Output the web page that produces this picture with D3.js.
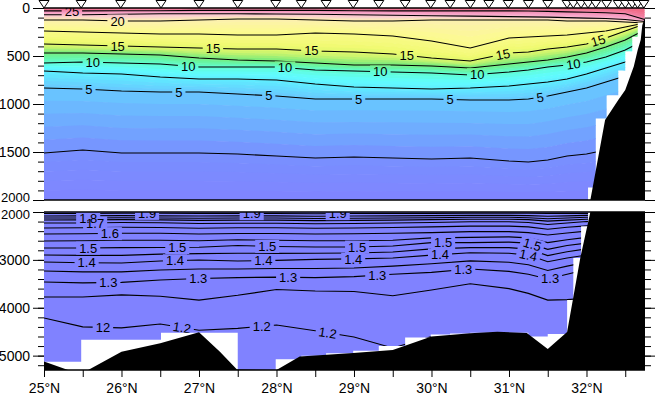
<!DOCTYPE html>
<html>
<head>
<meta charset="utf-8">
<script src="https://cdn.jsdelivr.net/npm/d3@7"></script>
<style>
  body { margin: 0; background: #fff; }
  text { font-family: "Liberation Sans", Arial, sans-serif; }
</style>
</head>
<body>
<svg id="chart" width="655" height="395"></svg>
<script>
// station positions (deg N) and deepest sample at each (m)
const stationLat = [25.0, 25.48, 25.99, 26.51, 27.0, 27.5, 27.99, 28.32, 28.64, 28.99, 29.32, 29.66, 29.99, 30.24, 30.5,
  30.74, 30.99, 31.25, 31.5, 31.75, 31.83, 31.93, 32.02, 32.12, 32.26, 32.41, 32.5, 32.59, 32.66, 32.74];
const stationBottom = [5130, 5200, 4670, 4700, 4520, 5300, 5300, 5075, 5000, 4950, 4900, 4800, 4620, 4560, 4540,
  4520, 4520, 4600, 4650, 4550, 3840, 2960, 2300, 1870, 1150, 910, 650, 450, 300, 150];

// bottom topography
const bathyLat = [25.0, 25.31, 25.57, 26.0, 26.5, 27.0, 27.27, 27.49, 28.0, 28.3, 28.99, 29.5, 30.0, 30.5, 30.85,
  31.23, 31.5, 31.75, 31.92, 32.05, 32.24, 32.41, 32.5, 32.61, 32.66, 32.7, 32.72, 32.74, 32.755];
const bathyDepth = [5125, 5320, 5320, 4917, 4741, 4512, 4917, 5290, 5300, 5020, 4945, 4880, 4600, 4530, 4500,
  4526, 4860, 4505, 2960, 2000, 1167, 958, 854, 610, 440, 330, 180, 130, 100];

// latitudes at which isotherm depths are read
const gridLat = [25, 25.5, 26, 26.5, 27, 27.5, 28, 28.5, 29, 29.5, 30, 30.5, 31, 31.25, 31.5, 31.75, 32, 32.25, 32.5, 32.75];

// upper panel isotherms (deg C) and their depths (m)
const upperLevels = [25, 22.5, 20, 17.5, 15, 12.5, 10, 7.5, 5, 2.5];
const upperDepths = [
  [30, 30, 28, 28, 25, 25, 25, 25, 28, 30, 30, 30, 30, 32, 35, 40, 45, 50, 60, 120],
  [70, 70, 65, 60, 60, 60, 62, 65, 70, 75, 80, 85, 90, 92, 95, 100, 105, 110, 120, 140],
  [125, 125, 135, 135, 125, 115, 115, 125, 135, 135, 125, 125, 125, 125, 125, 135, 135, 135, 146, 156],
  [240, 250, 260, 271, 271, 281, 281, 260, 271, 292, 344, 417, 313, 302, 292, 281, 260, 240, 198, 156],
  [375, 385, 396, 406, 417, 427, 427, 448, 458, 479, 521, 552, 469, 458, 427, 406, 375, 313, 240, 167],
  [469, 469, 479, 490, 521, 542, 552, 573, 594, 594, 604, 625, 583, 563, 542, 510, 469, 406, 333, 229],
  [573, 563, 573, 583, 615, 615, 615, 646, 656, 667, 677, 698, 667, 646, 615, 594, 563, 510, 438, 333],
  [656, 677, 688, 719, 740, 740, 750, 792, 823, 833, 844, 833, 813, 792, 771, 740, 688, 625, 563, 438],
  [833, 844, 865, 875, 875, 896, 917, 948, 948, 948, 948, 958, 958, 948, 917, 875, 833, 771, 708, 646],
  [1510, 1479, 1510, 1510, 1510, 1521, 1542, 1563, 1552, 1563, 1573, 1563, 1594, 1604, 1583, 1542, 1521, 1479, 1427, 1375]
];

// lower panel isotherms
const lowerLevels = [1.9, 1.85, 1.8, 1.75, 1.7, 1.65, 1.6, 1.55, 1.5, 1.45, 1.4, 1.35, 1.3, 1.25, 1.2];
const lowerDepths = [
  [2030, 2030, 2025, 2025, 2030, 2030, 2030, 2035, 2030, 2030, 2030, 2025, 2025, 2025, 2030, 2030, 2030, 2030, 2030, 2030],
  [2084, 2080, 2075, 2080, 2085, 2080, 2080, 2090, 2085, 2080, 2075, 2070, 2070, 2075, 2090, 2080, 2070, 2060, 2060, 2060],
  [2125, 2125, 2120, 2125, 2130, 2125, 2125, 2135, 2130, 2125, 2120, 2110, 2110, 2120, 2140, 2125, 2110, 2100, 2100, 2100],
  [2167, 2165, 2160, 2165, 2175, 2170, 2170, 2180, 2175, 2170, 2160, 2150, 2150, 2160, 2190, 2170, 2150, 2140, 2140, 2140],
  [2230, 2230, 2220, 2225, 2240, 2235, 2235, 2245, 2240, 2230, 2220, 2205, 2205, 2220, 2260, 2230, 2200, 2190, 2190, 2190],
  [2334, 2330, 2320, 2325, 2340, 2330, 2330, 2340, 2335, 2325, 2310, 2295, 2295, 2310, 2360, 2320, 2290, 2280, 2280, 2280],
  [2459, 2455, 2445, 2445, 2460, 2450, 2450, 2460, 2455, 2445, 2430, 2410, 2410, 2430, 2480, 2440, 2400, 2390, 2390, 2390],
  [2605, 2600, 2590, 2590, 2600, 2580, 2590, 2600, 2600, 2590, 2540, 2530, 2520, 2540, 2640, 2580, 2530, 2520, 2520, 2520],
  [2752, 2752, 2745, 2740, 2735, 2700, 2720, 2731, 2731, 2710, 2640, 2640, 2630, 2650, 2780, 2700, 2650, 2640, 2640, 2640],
  [2898, 2905, 2905, 2880, 2870, 2860, 2865, 2860, 2855, 2835, 2770, 2745, 2745, 2775, 2910, 2830, 2770, 2760, 2760, 2760],
  [3044, 3060, 3065, 3023, 3002, 3023, 3010, 2990, 2980, 2960, 2900, 2850, 2860, 2900, 3040, 2960, 2900, 2890, 2890, 2890],
  [3232, 3250, 3250, 3210, 3190, 3190, 3180, 3180, 3170, 3130, 3080, 3020, 3050, 3100, 3220, 3130, 3050, 3040, 3040, 3040],
  [3461, 3480, 3470, 3420, 3390, 3370, 3360, 3370, 3350, 3300, 3260, 3190, 3240, 3300, 3400, 3300, 3200, 3190, 3190, 3190],
  [3775, 3775, 3730, 3760, 3840, 3740, 3620, 3650, 3660, 3750, 3630, 3500, 3600, 3700, 3840, 3830, 3800, 3800, 3800, 3800],
  [4213, 4400, 4420, 4340, 4470, 4430, 4360, 4480, 4610, 4840, 4600, 4560, 4700, 4700, 4800, 4800, 4800, 4800, 4800, 4800]
];

// contour labels: [level, latitude, text]
const upperLabels = [
  [25, 25.36, '25'], [20, 25.95, '20'],
  [15, 25.95, '15'], [15, 27.18, '15'], [15, 28.45, '15'], [15, 29.68, '15'], [15, 30.92, '15'], [15, 32.15, '15'],
  [10, 25.63, '10'], [10, 26.86, '10'], [10, 28.11, '10'], [10, 29.34, '10'], [10, 30.59, '10'], [10, 31.83, '10'],
  [5, 25.58, '5'], [5, 26.74, '5'], [5, 27.9, '5'], [5, 29.06, '5'], [5, 30.24, '5'], [5, 31.4, '5']
];
const lowerLabels = [
  [1.9, 26.33, '1.9'], [1.9, 27.68, '1.9'], [1.9, 28.79, '1.9'], [1.8, 25.57, '1.8'], [1.7, 25.66, '1.7'], [1.6, 25.85, '1.6'],
  [1.5, 25.57, '1.5'], [1.5, 26.72, '1.5'], [1.5, 27.88, '1.5'], [1.5, 29.04, '1.5'], [1.5, 30.15, '1.5'], [1.5, 31.3, '1.5'],
  [1.4, 25.55, '1.4'], [1.4, 26.69, '1.4'], [1.4, 27.83, '1.4'], [1.4, 28.99, '1.4'], [1.4, 30.11, '1.4'], [1.4, 31.25, '1.4'],
  [1.3, 25.83, '1.3'], [1.3, 26.99, '1.3'], [1.3, 28.15, '1.3'], [1.3, 29.3, '1.3'], [1.3, 30.41, '1.3'], [1.3, 31.53, '1.3'],
  [1.2, 25.76, '12'], [1.2, 26.78, '1.2'], [1.2, 27.81, '1.2'], [1.2, 28.66, '1.2']
];

// axis ticks
const latTicks = d3.range(25, 32.51, 0.5);
const latLabels = [25, 26, 27, 28, 29, 30, 31, 32];
const upperMajor = [0, 500, 1000, 1500, 2000];
const upperMinor = d3.range(0, 2001, 100);
const lowerMajor = [2000, 3000, 4000, 5000];
const lowerMinor = d3.range(2000, 5301, 200);

// colour map (temperature -> colour)
const colorTemps = [1.0, 2.0, 2.5, 3.5, 5, 7, 8.5, 10, 11.5, 12.8, 14, 15.5, 18, 20, 21.5, 23.5, 25, 27];
const colorHex = ['#8080ff', '#8084ff', '#7890ff', '#70a8ff', '#68c8ff', '#60e8ff', '#60fcff', '#60fcd0', '#68f49c',
  '#84ec78', '#c8f46c', '#f0fa70', '#fcfa90', '#fcf0b0', '#fad0d0', '#f6a0c8', '#f288ac', '#f06c88'];

const color = d3.scaleLinear().domain(colorTemps).range(colorHex).clamp(true);

const X0 = 44, X1 = 645;
const latMax = 32.755;
const x = d3.scaleLinear().domain([25, latMax]).range([X0, X1]);
const yUp = d3.scaleLinear().domain([0, 2000]).range([8, 200]).clamp(true);
const yLo = d3.scaleLinear().domain([2000, 5300]).range([212, 370]).clamp(true);

const svg = d3.select('#chart');
const defs = svg.append('defs');

// region where there is data: step outline under the stations
function dataOutline(y, top) {
  const pts = [[x(stationLat[0]), y(top)]];
  for (let i = 0; i < stationLat.length - 1; i++) {
    const d = Math.min(stationBottom[i], stationBottom[i + 1]);
    pts.push([x(stationLat[i]), y(d)], [x(stationLat[i + 1]), y(d)]);
  }
  pts.push([x(latMax), y(stationBottom[stationBottom.length - 1])]);
  pts.push([x(latMax), y(top)]);
  return 'M' + pts.join('L') + 'Z';
}

function drawPanel(name, y, top, bottom, levels, depths, labels, bands) {
  const g = svg.append('g').attr('class', name);

  defs.append('clipPath').attr('id', name + '-data')
    .append('path').attr('d', dataOutline(y, top));
  defs.append('clipPath').attr('id', name + '-box')
    .append('rect').attr('x', X0).attr('y', y(top)).attr('width', X1 - X0).attr('height', y(bottom) - y(top));

  // colour fill
  const fill = g.append('g').attr('clip-path', `url(#${name}-data)`);
  bands(fill);

  // labels first so we can cut gaps in the lines
  const lab = g.append('g').attr('clip-path', `url(#${name}-data)`);
  const mask = defs.append('mask').attr('id', name + '-gaps');
  mask.append('rect').attr('x', 0).attr('y', 0).attr('width', 655).attr('height', 395).attr('fill', '#fff');

  labels.forEach(([lev, lat, txt]) => {
    const arr = depths[levels.indexOf(lev)];
    const at = d3.scaleLinear().domain(gridLat).range(arr);
    const px = x(lat), py = y(at(lat));
    const ax = x(lat + 0.06) - x(lat - 0.06), ay = y(at(lat + 0.06)) - y(at(lat - 0.06));
    let ang = Math.atan2(ay, ax) * 180 / Math.PI;
    if (Math.abs(ang) < 8) ang = 0;
    const t = lab.append('text')
      .attr('transform', `translate(${px},${py}) rotate(${ang})`)
      .attr('text-anchor', 'middle')
      .attr('dy', '0.36em')
      .attr('font-size', 13)
      .text(txt);
    const b = t.node().getBBox();
    mask.append('rect')
      .attr('transform', `translate(${px},${py}) rotate(${ang})`)
      .attr('x', b.x - 3).attr('y', b.y + 1).attr('width', b.width + 6).attr('height', b.height - 2)
      .attr('fill', '#000');
  });

  // contour lines
  const line = d3.line().x((d, i) => x(gridLat[i])).y(d => y(d));
  g.append('g').attr('clip-path', `url(#${name}-data)`)
    .append('g').attr('mask', `url(#${name}-gaps)`)
    .selectAll('path').data(depths).join('path')
    .attr('d', line)
    .attr('fill', 'none')
    .attr('stroke', '#000')
    .attr('stroke-width', 1.1);

  // bottom topography
  const ground = d3.area()
    .x((d, i) => x(bathyLat[i]))
    .y0(y(bottom) + 2)
    .y1(d => y(d));
  g.append('path')
    .attr('clip-path', `url(#${name}-box)`)
    .attr('d', ground(bathyDepth))
    .attr('fill', '#000');

  // frame lines
  g.selectAll('line.frame').data([top, bottom]).join('line')
    .attr('class', 'frame')
    .attr('x1', X0).attr('x2', X1)
    .attr('y1', d => y(d)).attr('y2', d => y(d))
    .attr('stroke', '#000').attr('stroke-width', 1.5);
}

function depthAxes(y, minor, major) {
  const left = svg.append('g').attr('transform', `translate(${X0},0)`);
  left.append('g').call(d3.axisLeft(y).tickValues(minor).tickSize(6).tickFormat(''));
  left.append('g').attr('class', 'major').call(d3.axisLeft(y).tickValues(major).tickSize(11).tickPadding(3).tickFormat(d3.format('d')));
  const right = svg.append('g').attr('transform', `translate(${X1},0)`);
  right.append('g').call(d3.axisRight(y).tickValues(minor).tickSize(6).tickFormat(''));
  right.append('g').call(d3.axisRight(y).tickValues(major).tickSize(10).tickFormat(''));
  return left;
}

// upper panel: bands between isotherms shaded in small steps
function upperBands(g) {
  const bounds = [gridLat.map(() => 0)].concat(upperDepths, [gridLat.map(() => 2000)]);
  const temps = [28].concat(upperLevels, [2.0]);
  const steps = 5;
  for (let b = 0; b < bounds.length - 1; b++) {
    const A = bounds[b], B = bounds[b + 1];
    for (let k = 0; k < steps; k++) {
      const f0 = k / steps, f1 = (k + 1) / steps;
      const tMid = temps[b] + (temps[b + 1] - temps[b]) * (k + 0.5) / steps;
      const area = d3.area()
        .x((d, i) => x(gridLat[i]))
        .y0((d, i) => yUp(A[i] + (B[i] - A[i]) * f0) - 0.3)
        .y1((d, i) => yUp(A[i] + (B[i] - A[i]) * f1) + 0.3);
      g.append('path').attr('d', area(gridLat)).attr('fill', color(tMid));
    }
  }
}

function lowerBands(g) {
  g.append('rect').attr('x', X0).attr('y', yLo(2000)).attr('width', X1 - X0).attr('height', yLo(5300) - yLo(2000))
    .attr('fill', color(1.5));
}

drawPanel('upper', yUp, 0, 2000, upperLevels, upperDepths, upperLabels, upperBands);
drawPanel('lower', yLo, 2000, 5300, lowerLevels, lowerDepths, lowerLabels, lowerBands);

const upAxis = depthAxes(yUp, upperMinor, upperMajor);
const loAxis = depthAxes(yLo, lowerMinor, lowerMajor);

// latitude axis
svg.append('g').attr('transform', `translate(0,${yLo(5300)})`)
  .call(d3.axisBottom(x).tickValues(latTicks).tickSize(7).tickPadding(6)
    .tickFormat(d => latLabels.includes(d) ? `${d}°N` : ''));

svg.selectAll('.domain').remove();
svg.selectAll('.tick text').attr('font-size', 14).attr('fill', '#000')
  .attr('font-family', '"Liberation Sans", Arial, sans-serif');
svg.selectAll('.tick line').attr('stroke', '#000');

// the two "2000" labels sit close together; nudge them apart a little
upAxis.selectAll('.major .tick text').filter(d => d === 2000).attr('font-size', 13).attr('dy', '0.12em');
loAxis.selectAll('.major .tick text').filter(d => d === 2000).attr('font-size', 13).attr('dy', '0.5em');

// station markers
svg.append('g').selectAll('path').data(stationLat).join('path')
  .attr('d', d => `M${x(d) - 5},0.5L${x(d) + 5},0.5L${x(d)},8Z`)
  .attr('fill', '#fff')
  .attr('stroke', '#000')
  .attr('stroke-width', 1);
</script>
</body>
</html>
